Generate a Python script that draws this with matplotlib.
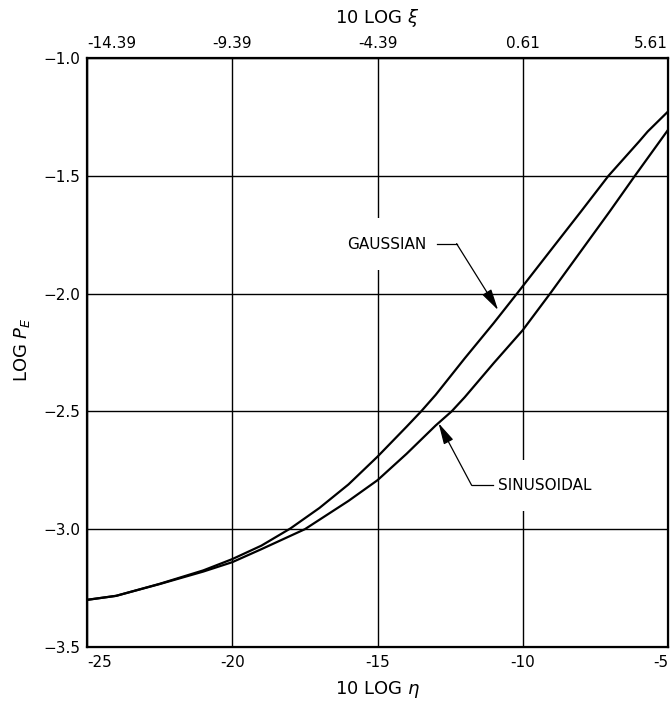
import matplotlib
matplotlib.use("Agg")
import matplotlib.pyplot as plt

# values (10 log eta, log P_E)
gauss_x = [-25, -24, -22.5, -21, -20, -19, -18, -17, -16, -15, -14, -13.5, -13,
           -12, -11, -10.2, -9, -8, -7.05, -6, -5.7, -5]
gauss_y = [-3.30, -3.283, -3.232, -3.175, -3.127, -3.07, -2.997, -2.91, -2.81,
           -2.692, -2.565, -2.5, -2.43, -2.275, -2.125, -2.0, -1.81, -1.652,
           -1.5, -1.355, -1.312, -1.227]

sinus_x = [-25, -24, -22.5, -21, -20, -19, -17.5, -16, -15, -14, -13, -12.45,
           -12, -11, -10, -9.06, -8, -7, -6.14, -5]
sinus_y = [-3.30, -3.283, -3.233, -3.18, -3.14, -3.085, -3.0, -2.88, -2.792,
           -2.68, -2.56, -2.5, -2.44, -2.295, -2.155, -2.0, -1.82, -1.65,
           -1.5, -1.305]

x_ticks = [-25, -20, -15, -10, -5]
x_labels = ["-25", "-20", "-15", "-10", "-5"]
top_labels = ["-14.39", "-9.39", "-4.39", "0.61", "5.61"]
y_ticks = [-3.5, -3.0, -2.5, -2.0, -1.5, -1.0]
y_labels = ["\u22123.5", "\u22123.0", "\u22122.5", "\u22122.0", "\u22121.5", "\u22121.0"]

fig = plt.figure(figsize=(6.71, 7.03), dpi=100)
ax = fig.add_axes([0.1297, 0.0797, 0.8659, 0.8378])

ax.plot(gauss_x, gauss_y, color="black", lw=1.6, zorder=2)
ax.plot(sinus_x, sinus_y, color="black", lw=1.6, zorder=2)

ax.set_xlim(-25, -5)
ax.set_ylim(-3.5, -1.0)
ax.set_xticks(x_ticks)
ax.set_xticklabels(x_labels)
ax.set_yticks(y_ticks)
ax.set_yticklabels(y_labels)
ax.tick_params(length=0, labelsize=11, pad=6)
ax.tick_params(axis="y", pad=5)
ax.grid(True, color="black", lw=1.0)
for s in ax.spines.values():
    s.set_linewidth(1.6)

labs = ax.get_xticklabels()
labs[0].set_ha("left")
labs[-1].set_ha("right")

# top axis: 10 log xi
ax2 = ax.twiny()
ax2.set_xlim(-25, -5)
ax2.set_xticks(x_ticks)
ax2.set_xticklabels(top_labels)
ax2.tick_params(length=0, labelsize=11, pad=5)
tl = ax2.get_xticklabels()
tl[0].set_ha("left")
tl[-1].set_ha("right")

fig.text(0.5626, 1 - 18 / 703, "10 LOG $\\xi$", ha="center", va="center", fontsize=13)
fig.text(0.5626, 1 - 690 / 703, "10 LOG $\\eta$", ha="center", va="center", fontsize=13)
fig.text(22 / 671, 1 - 350 / 703, "LOG $P_E$", ha="center", va="center",
         rotation=90, fontsize=13)

# curve labels with leader arrows
box = dict(boxstyle="square,pad=1.2", fc="white", ec="none")
ax.text(-14.67, -1.79, "GAUSSIAN", ha="center", va="center", fontsize=11,
        bbox=box, zorder=3)
ax.plot([-12.96, -12.28], [-1.788, -1.788], color="black", lw=0.9, zorder=4)
ax.annotate("", xy=(-10.85, -2.07), xytext=(-12.28, -1.788),
            arrowprops=dict(arrowstyle="-|>,head_length=1.3,head_width=0.32",
                            color="black", lw=0.9, shrinkA=0, shrinkB=0),
            zorder=4)

ax.text(-10.85, -2.814, "SINUSOIDAL", ha="left", va="center", fontsize=11,
        bbox=box, zorder=3)
ax.plot([-11.02, -11.76], [-2.814, -2.814], color="black", lw=0.9, zorder=4)
ax.annotate("", xy=(-12.9, -2.55), xytext=(-11.76, -2.814),
            arrowprops=dict(arrowstyle="-|>,head_length=1.3,head_width=0.32",
                            color="black", lw=0.9, shrinkA=0, shrinkB=0),
            zorder=4)

fig.savefig("out.png", dpi=100)
